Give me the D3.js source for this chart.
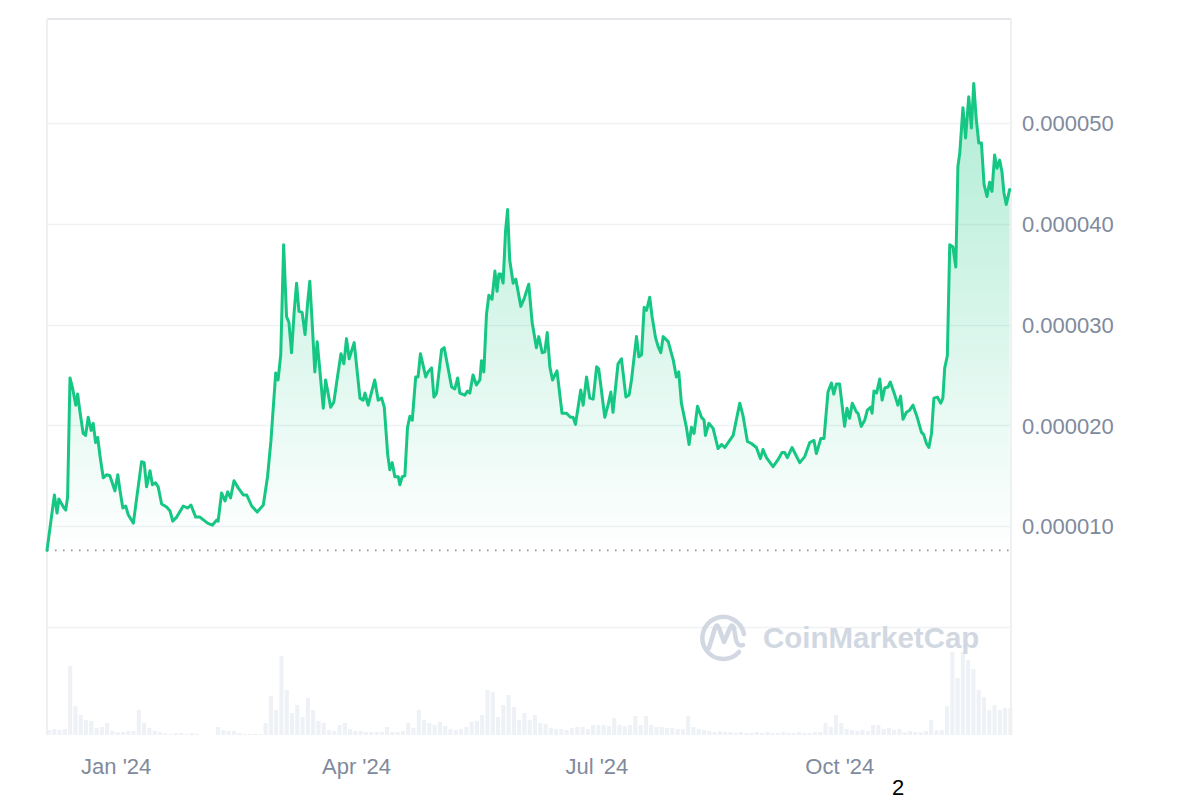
<!DOCTYPE html>
<html><head><meta charset="utf-8">
<script src="https://cdn.jsdelivr.net/npm/d3@7"></script>
<style>html,body{margin:0;padding:0;background:#fff;}svg{display:block;}</style>
</head><body>
<svg id="chart" width="1200" height="800"></svg>
<script>
// ---------- data ----------
const startDate = "2023-12-06";
const spanDays = 365;
// day offsets from startDate for each price sample
const priceDays = [
 0,2.8,3.8,4.5,6.2,7.1,7.8,8.7,9.6,10.9,
 11.6,12.5,13.7,14.6,15.6,16.7,17.5,18.4,19.2,20.1,
 21.3,22.6,23.8,24.7,25.7,26.8,27.6,28.7,29.8,30.8,
 32.7,35.8,36.8,37.7,39.0,39.9,41.1,42.1,43.4,45.3,
 46.6,47.6,49.1,51.6,53.3,54.5,56.3,57.9,60.8,62.6,
 64.2,64.8,66.1,67.4,68.4,69.5,70.8,72.4,74.3,75.6,
 77.5,79.6,81.9,83.5,84.8,86.6,87.5,88.5,89.6,90.7,
 91.6,92.6,93.6,94.5,95.4,96.6,97.7,98.7,99.5,100.4,
 101.4,102.3,103.3,104.6,105.5,107.4,108.6,109.7,111.3,112.4,
 113.4,114.4,116.3,118.5,119.7,120.4,121.6,124.1,125.4,126.7,
 127.7,129.0,129.8,130.7,131.7,133.0,133.6,134.5,135.5,136.5,
 137.4,138.3,139.6,140.5,141.4,142.8,143.4,144.3,145.6,146.5,
 147.5,149.4,150.4,153.2,154.4,155.5,156.3,158.2,159.2,160.1,
 161.3,162.6,163.9,164.5,165.4,166.4,167.3,168.5,169.6,170.4,
 171.1,171.8,172.7,173.6,174.4,175.2,176.5,177.5,179.4,180.7,
 182.4,183.7,185.3,186.2,187.5,188.5,189.4,190.4,191.4,193.1,
 195.0,196.7,198.2,199.2,200.1,202.1,203.0,204.3,205.5,206.8,
 208.1,208.9,211.2,212.4,213.5,214.3,216.2,217.5,219.2,220.4,
 221.3,223.2,224.1,225.1,226.1,227.0,228.2,229.1,230.4,231.4,
 232.4,233.3,235.2,237.1,238.3,239.2,240.2,242.1,243.1,244.0,
 245.0,246.3,247.8,248.8,249.3,250.6,252.2,254.1,255.4,256.6,
 259.8,262.3,263.5,265.2,266.7,268.6,270.1,271.1,272.4,274.9,
 276.8,278.3,279.3,280.3,282.1,285.0,286.9,288.8,290.4,291.3,
 293.0,294.2,295.7,297.0,297.9,298.9,300.1,302.0,302.9,303.9,
 304.9,306.5,307.1,308.3,309.6,310.6,311.9,312.4,313.1,314.1,
 315.3,316.2,317.2,318.4,319.3,321.0,322.2,323.2,324.1,325.4,
 326.6,327.9,329.6,331.1,331.9,333.0,333.9,334.9,335.8,337.1,
 338.4,339.2,339.9,340.9,341.8,343.0,344.1,344.9,345.6,346.8,
 347.8,349.0,350.0,350.9,351.8,352.8,353.8,354.8,355.9,356.9,
 357.8,358.8,359.7,360.7,361.6,362.3,363.2,364.5
];
// price in units of 1e-6 USD
const pricesE6 = [
 7.6,13.1,11.3,12.7,11.9,11.6,12.9,24.7,23.8,22.0,
 23.1,21.3,19.2,19.0,20.8,19.5,20.2,18.3,18.8,16.9,
 14.8,15.1,15.0,14.3,13.5,15.1,13.6,11.8,12.0,11.1,
 10.3,16.4,16.3,13.9,15.5,14.1,14.3,13.9,12.2,11.9,
 11.5,10.5,10.9,12.0,11.8,12.1,10.9,10.9,10.3,10.1,
 10.6,10.5,13.3,12.5,13.4,12.8,14.5,13.8,13.1,13.1,
 12.0,11.4,12.1,14.9,18.5,25.2,24.5,27.0,37.9,30.8,
 30.2,27.2,31.3,34.1,31.3,31.2,29.0,32.2,34.3,30.2,
 25.3,28.3,25.5,21.7,24.5,21.8,22.3,24.3,27.1,26.1,
 28.6,26.6,28.2,22.7,22.5,23.2,22.0,24.5,22.5,22.7,
 21.8,17.1,15.6,16.3,14.9,14.9,14.1,14.9,15.0,19.8,
 20.9,20.5,24.8,24.8,27.1,25.5,24.8,25.3,25.7,22.8,
 23.2,27.5,27.7,23.8,23.6,24.7,23.2,23.0,23.4,23.2,
 25.0,24.0,24.5,26.4,25.3,31.0,32.9,32.5,35.3,33.3,
 35.0,35.0,34.1,39.2,41.4,36.4,34.1,34.5,31.8,32.6,
 34.0,30.2,27.7,28.8,27.2,27.3,29.2,25.8,24.5,25.4,
 21.2,21.2,20.8,20.8,20.1,23.5,22.0,24.8,22.7,22.6,
 25.8,25.6,20.8,22.0,23.3,21.3,26.1,26.6,22.8,23.0,
 24.5,28.8,26.8,27.0,31.7,31.4,32.7,30.8,28.7,27.8,
 27.2,28.8,28.3,26.5,24.8,25.3,22.2,19.8,18.1,19.8,
 19.2,21.9,20.8,20.5,19.0,20.2,19.7,17.7,18.1,17.8,
 19.0,22.2,21.0,18.4,18.2,17.8,16.7,17.6,16.8,15.9,
 16.6,17.3,17.3,16.8,17.8,16.3,16.9,18.3,18.5,17.2,
 18.7,18.7,23.3,24.2,23.1,24.1,24.1,19.9,21.7,20.7,
 22.2,21.3,21.2,19.9,20.5,21.5,21.8,21.2,23.4,23.2,
 24.6,22.5,23.7,23.8,24.3,23.0,22.0,22.9,20.6,21.3,
 21.5,22.0,20.7,19.3,19.1,18.2,17.8,19.2,22.7,22.8,
 22.2,22.7,25.7,26.9,37.9,37.7,35.7,45.7,47.0,51.5,
 48.5,52.6,49.5,53.9,50.5,48.0,48.0,43.9,42.7,44.1,
 43.2,46.8,45.5,46.3,45.1,43.1,41.9,43.4
];
// volume, one bar per 2-day bucket (relative units)
const volumeStepDays = 2;
const volumes = [
 5,6,5,6,69,29,20,15,14,7,
 8,12,4,3,3,4,4,25,12,7,
 4,3,2,1,2,2,1,2,1,0,
 0,0,8,5,4,4,2,1,1,1,
 1,12,39,25,79,45,22,30,18,37,
 25,14,12,5,4,10,12,6,4,4,
 3,3,3,3,8,3,3,4,12,7,
 25,15,12,10,13,9,6,5,6,8,
 13,14,20,45,43,18,30,40,28,15,
 22,15,20,12,11,7,6,6,5,7,
 8,8,6,10,10,10,9,17,10,9,
 10,19,10,19,10,8,8,7,7,6,
 6,19,8,6,5,4,3,4,3,3,
 2,3,2,2,3,2,3,2,2,3,
 2,2,3,2,2,3,3,12,8,20,
 12,6,5,4,5,4,10,10,6,7,
 5,6,3,4,3,3,4,15,5,5,
 29,83,57,83,75,66,45,38,25,30,
 25,27,27
];
const volumeMax = 108;
const basePriceE6 = 7.6;        // dotted reference line (opening price)
const yTicksE6 = [0,10,20,30,40,50];
const yDomainE6 = [0, 60.3];
const xTickDates = ["2024-01-01","2024-04-01","2024-07-01","2024-10-01"];
const watermarkText = "CoinMarketCap";
const footnote = "2";

// ---------- layout ----------
const L = 47, R = 1011, T = 19, PB = 627, VB = 735;
const svg = d3.select("#chart");
const t0 = d3.utcParse("%Y-%m-%d")(startDate);
const dayMs = 86400000;
const toDate = d => new Date(t0.getTime() + d * dayMs);
const x = d3.scaleUtc().domain([t0, toDate(spanDays)]).range([L, R]);
const y = d3.scaleLinear().domain(yDomainE6).range([PB, T]);
const yv = d3.scaleLinear().domain([0, volumeMax]).range([VB, PB]);

const green = "#16c784";
const defs = svg.append("defs");
const grad = defs.append("linearGradient").attr("id","ag")
  .attr("gradientUnits","userSpaceOnUse")
  .attr("x1",0).attr("x2",0).attr("y1",y(54)).attr("y2",y(basePriceE6));
grad.append("stop").attr("offset","0%").attr("stop-color",green).attr("stop-opacity",0.34);
grad.append("stop").attr("offset","100%").attr("stop-color",green).attr("stop-opacity",0.0);

// gridlines
svg.append("g").selectAll("line").data(yTicksE6).join("line")
  .attr("x1",L).attr("x2",R).attr("y1",d=>Math.round(y(d))+0.5).attr("y2",d=>Math.round(y(d))+0.5)
  .attr("stroke","#eff1f4").attr("stroke-width",1.5);

// volume bars
const bw = x(toDate(volumeStepDays)) - x(toDate(0));
svg.append("g").selectAll("rect").data(volumes).join("rect")
  .attr("x",(d,i)=>x(toDate(i*volumeStepDays)))
  .attr("width",Math.max(1,bw-1.2))
  .attr("y",d=>yv(d)).attr("height",d=>VB-yv(d))
  .attr("fill","#eef1f5");

// frame
svg.append("line").attr("x1",L).attr("x2",R).attr("y1",T).attr("y2",T)
  .attr("stroke","#e6e7ea").attr("stroke-width",2);
svg.append("line").attr("x1",L).attr("x2",L).attr("y1",T).attr("y2",VB)
  .attr("stroke","#eff0f2").attr("stroke-width",2);
svg.append("line").attr("x1",R).attr("x2",R).attr("y1",T).attr("y2",VB)
  .attr("stroke","#eff0f2").attr("stroke-width",2);

// price data
const pts = priceDays.map((d,i)=>({date:toDate(d), v:pricesE6[i]}));

// area
svg.append("path").datum(pts)
  .attr("d", d3.area().x(d=>x(d.date)).y0(y(basePriceE6)).y1(d=>y(d.v)))
  .attr("fill","url(#ag)");

// dotted baseline
svg.append("line").attr("x1",L).attr("x2",R)
  .attr("y1",y(basePriceE6)).attr("y2",y(basePriceE6))
  .attr("stroke","#8f96a3").attr("stroke-width",1.6).attr("stroke-dasharray","1.6,6.4");

// line
svg.append("path").datum(pts)
  .attr("d", d3.line().x(d=>x(d.date)).y(d=>y(d.v)))
  .attr("fill","none").attr("stroke",green).attr("stroke-width",3)
  .attr("stroke-linejoin","round").attr("stroke-linecap","round");

// y labels (right)
const yAxis = d3.axisRight(y).tickValues(yTicksE6.filter(v=>v>0))
  .tickFormat(v=>(v*1e-6).toFixed(6)).tickSize(0).tickPadding(0);
const gy = svg.append("g").attr("transform",`translate(${R+11},0)`).call(yAxis);
gy.select(".domain").remove();
gy.selectAll("text").attr("font-family","'Liberation Sans', Arial, sans-serif")
  .attr("font-size",22).attr("fill","#808a9d").attr("x",0).attr("dy","0.35em");

// x labels
const fmt = d3.utcFormat("%b '%y");
const xAxis = d3.axisBottom(x).tickValues(xTickDates.map(s=>d3.utcParse("%Y-%m-%d")(s)))
  .tickFormat(fmt).tickSize(0).tickPadding(0);
const gx = svg.append("g").call(xAxis);
gx.select(".domain").remove();
gx.selectAll("text").attr("font-family","'Liberation Sans', Arial, sans-serif")
  .attr("font-size",22).attr("fill","#808a9d").attr("y",774).attr("dy",0);

// watermark
const wm = svg.append("g").attr("fill","none").attr("stroke","#d2d8e2")
  .attr("stroke-width",4.5).attr("stroke-linecap","round").attr("stroke-linejoin","round");
wm.append("path").attr("d","M 739 652 A 21 21 0 1 1 744 634");
wm.append("path").attr("d","M 709 648 L 715 628 Q 717 623 719 628 L 724 642 L 730 628 Q 732 623 734 628 L 736 640 Q 738 647 743 645");
svg.append("text").attr("x",763).attr("y",648).text(watermarkText)
  .attr("font-family","'Liberation Sans', Arial, sans-serif").attr("font-weight","bold")
  .attr("font-size",29.5).attr("fill","#d2d8e2");

// footnote
svg.append("text").attr("x",898).attr("y",795).attr("text-anchor","middle").text(footnote)
  .attr("font-family","'Liberation Sans', Arial, sans-serif").attr("font-size",22).attr("fill","#000");
</script>
</body></html>
